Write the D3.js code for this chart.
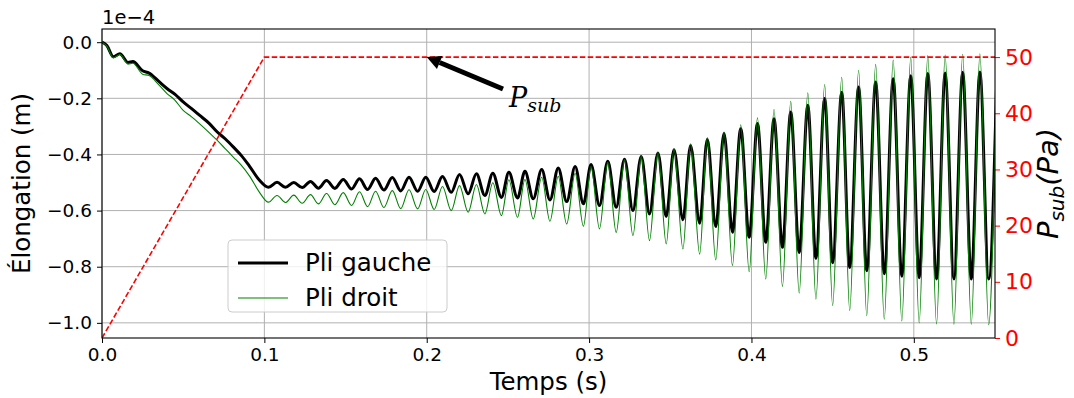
<!DOCTYPE html>
<html>
<head>
<meta charset="utf-8">
<script src="https://cdn.jsdelivr.net/npm/d3@7"></script>
<style>
  body { margin: 0; background: #fff; }
  text { font-family: "DejaVu Sans", sans-serif; }
</style>
</head>
<body>
<script>
// dimensions de la figure
const width = 1074;
const height = 398;
const margin = {top: 29, right: 79, bottom: 60, left: 102};

// temps (s) des points
const temps = [
  0, 0.003, 0.007, 0.011, 0.016, 0.019, 0.025, 0.029, 0.035, 0.040, 0.045,
  0.050, 0.055, 0.060, 0.066, 0.071, 0.076, 0.081, 0.086, 0.091, 0.097,
  0.1025, 0.1078, 0.1130, 0.1181, 0.1233, 0.1284, 0.1333, 0.1383, 0.1434, 0.1486,
  0.1537, 0.1586, 0.1636, 0.1685, 0.1736, 0.1788, 0.1840, 0.1891, 0.1944, 0.1994,
  0.2046, 0.2097, 0.2151, 0.2202, 0.2255, 0.2306, 0.2358, 0.2407, 0.2460, 0.2506,
  0.2559, 0.2605, 0.2656, 0.2708, 0.2759, 0.2810, 0.2862, 0.2914, 0.2965, 0.3012,
  0.3064, 0.3115, 0.3167, 0.3218, 0.3270, 0.3321, 0.3372, 0.3424, 0.3475, 0.3523,
  0.3578, 0.3625, 0.3681, 0.3728, 0.3780, 0.3831, 0.3883, 0.3934, 0.3986, 0.4037,
  0.4088, 0.4139, 0.4191, 0.4242, 0.4294, 0.4347, 0.4397, 0.4451, 0.4500, 0.4556,
  0.4605, 0.4660, 0.4710, 0.4765, 0.4818, 0.4873, 0.4926, 0.4981, 0.5033, 0.5086,
  0.5140, 0.5193, 0.5247, 0.5301, 0.5354, 0.5407, 0.5461, 0.5512
];

// élongation (x 1e-4 m)
const pliGauche = [
  0, -0.012, -0.052, -0.041, -0.072, -0.069, -0.102, -0.110, -0.140, -0.165, -0.186,
  -0.213, -0.236, -0.260, -0.289, -0.320, -0.345, -0.374, -0.405, -0.443, -0.492,
  -0.517, -0.499, -0.517, -0.500, -0.518, -0.496, -0.520, -0.493, -0.521, -0.489,
  -0.523, -0.487, -0.525, -0.485, -0.527, -0.482, -0.530, -0.481, -0.531, -0.481,
  -0.532, -0.479, -0.535, -0.471, -0.540, -0.469, -0.546, -0.467, -0.553, -0.463,
  -0.555, -0.460, -0.558, -0.454, -0.562, -0.448, -0.568, -0.443, -0.576, -0.436,
  -0.582, -0.424, -0.588, -0.417, -0.600, -0.407, -0.612, -0.395, -0.621, -0.383,
  -0.633, -0.368, -0.645, -0.346, -0.657, -0.325, -0.677, -0.308, -0.695, -0.290,
  -0.713, -0.273, -0.731, -0.249, -0.749, -0.225, -0.770, -0.201, -0.786, -0.178,
  -0.803, -0.160, -0.814, -0.142, -0.825, -0.130, -0.834, -0.120, -0.839, -0.112,
  -0.844, -0.110, -0.844, -0.107, -0.844, -0.106, -0.844, -0.105
];

const pliDroit = [
  0, -0.014, -0.056, -0.044, -0.078, -0.075, -0.114, -0.119, -0.152, -0.183, -0.207,
  -0.243, -0.265, -0.290, -0.322, -0.350, -0.380, -0.410, -0.440, -0.478, -0.535,
  -0.570, -0.546, -0.571, -0.545, -0.574, -0.543, -0.576, -0.539, -0.579, -0.536,
  -0.582, -0.533, -0.586, -0.531, -0.589, -0.529, -0.593, -0.526, -0.594, -0.525,
  -0.596, -0.514, -0.600, -0.511, -0.606, -0.507, -0.612, -0.501, -0.618, -0.490,
  -0.624, -0.489, -0.630, -0.481, -0.638, -0.478, -0.648, -0.467, -0.656, -0.443,
  -0.665, -0.428, -0.678, -0.419, -0.689, -0.407, -0.707, -0.392, -0.719, -0.380,
  -0.737, -0.362, -0.755, -0.340, -0.776, -0.320, -0.796, -0.294, -0.818, -0.269,
  -0.844, -0.240, -0.870, -0.211, -0.894, -0.180, -0.916, -0.151, -0.939, -0.125,
  -0.957, -0.100, -0.975, -0.079, -0.987, -0.064, -0.993, -0.054, -1.000, -0.048,
  -1.004, -0.046, -1.005, -0.043, -1.005, -0.041, -1.007, -0.041
];

// pression sub-glottique
const tempsP = [0, 0.1, 0.55];
const pSub = [0, 50, 50];

const xTicks = [0, 0.1, 0.2, 0.3, 0.4, 0.5];
const yTicks = [0, -0.2, -0.4, -0.6, -0.8, -1.0];
const pTicks = [0, 10, 20, 30, 40, 50];

const svg = d3.select('body').append('svg')
    .attr('width', width)
    .attr('height', height);

const plotW = width - margin.left - margin.right;
const plotH = height - margin.top - margin.bottom;

const x = d3.scaleLinear().domain([0, 0.55]).range([0, plotW]);
const y = d3.scaleLinear().domain([-1.054, 0.047]).range([plotH, 0]);
const yP = d3.scaleLinear().domain([0, 55]).range([plotH, 0]);

const g = svg.append('g')
    .attr('transform', `translate(${margin.left},${margin.top})`);

svg.append('defs').append('clipPath').attr('id', 'clip')
  .append('rect').attr('width', plotW).attr('height', plotH);

// grille
const grid = g.append('g').attr('stroke', '#b0b0b0').attr('stroke-width', 1);
grid.selectAll('.gx').data(xTicks).enter().append('line')
    .attr('x1', d => x(d)).attr('x2', d => x(d))
    .attr('y1', 0).attr('y2', plotH);
grid.selectAll('.gy').data(yTicks).enter().append('line')
    .attr('y1', d => y(d)).attr('y2', d => y(d))
    .attr('x1', 0).attr('x2', plotW);

const fmt = d3.format('.1f');
const minus = s => s.replace('-', '\u2212');

// axes
const xAxis = g.append('g')
    .attr('transform', `translate(0,${plotH})`)
    .call(d3.axisBottom(x).tickValues(xTicks).tickSize(5).tickPadding(5).tickFormat(d => fmt(d)));
const yAxis = g.append('g')
    .call(d3.axisLeft(y).tickValues(yTicks).tickSize(5).tickPadding(5).tickFormat(d => minus(fmt(d))));
const pAxis = g.append('g')
    .attr('transform', `translate(${plotW},0)`)
    .call(d3.axisRight(yP).tickValues(pTicks).tickSize(5).tickPadding(5));

[xAxis, yAxis, pAxis].forEach(a => {
  a.select('.domain').remove();
  a.selectAll('text').style('font-family', '"DejaVu Sans", sans-serif');
});
xAxis.selectAll('text').style('font-size', '18.5px').attr('fill', '#000');
yAxis.selectAll('text').style('font-size', '18.5px').attr('fill', '#000');
xAxis.selectAll('line').attr('stroke', '#000');
yAxis.selectAll('line').attr('stroke', '#000');
pAxis.selectAll('line').attr('stroke', 'red');
pAxis.selectAll('text').style('font-size', '22px').attr('fill', 'red');

// courbes
const lines = g.append('g').attr('clip-path', 'url(#clip)');
const ligne = serie => d3.line()
    .x((d, i) => x(temps[i]))
    .y(d => y(d))
    .curve(d3.curveMonotoneX)(serie);

lines.append('path')
    .attr('d', ligne(pliGauche))
    .attr('fill', 'none').attr('stroke', '#000').attr('stroke-width', 3);
lines.append('path')
    .attr('d', ligne(pliDroit))
    .attr('fill', 'none').attr('stroke', 'green').attr('stroke-width', 1.1);

// légende
const leg = g.append('g').attr('transform', `translate(${228 - margin.left},${240 - margin.top})`);
leg.append('rect')
    .attr('width', 219).attr('height', 72).attr('rx', 4)
    .attr('fill', 'rgba(255,255,255,0.8)').attr('stroke', '#cccccc');
const legItems = [
  {label: 'Pli gauche', color: '#000', w: 3},
  {label: 'Pli droit', color: 'green', w: 1.1}
];
legItems.forEach((it, i) => {
  const yy = 23 + i * 35;
  leg.append('line').attr('x1', 10).attr('x2', 60).attr('y1', yy).attr('y2', yy)
      .attr('stroke', it.color).attr('stroke-width', it.w);
  leg.append('text').attr('x', 77).attr('y', yy + 8)
      .style('font-size', '24.5px').text(it.label);
});

// pression (axe de droite)
const lp = g.append('g').attr('clip-path', 'url(#clip)');
lp.append('path')
    .attr('d', d3.line().x((d, i) => x(tempsP[i])).y(d => yP(d))(pSub))
    .attr('fill', 'none').attr('stroke', 'red').attr('stroke-width', 1.6)
    .attr('stroke-dasharray', '5.5,2.4');

// cadre
g.append('rect').attr('width', plotW).attr('height', plotH)
    .attr('fill', 'none').attr('stroke', '#000').attr('stroke-width', 1.1);

// annotation
const ax0 = x(0.2), ay0 = yP(50);
const tx = 503 - margin.left, ty = 89 - margin.top;
const ang = Math.atan2(ay0 - ty, ax0 - tx);
const headL = 14, headW = 7;
const bx = ax0 - headL * Math.cos(ang), by = ay0 - headL * Math.sin(ang);
g.append('line').attr('x1', tx).attr('y1', ty).attr('x2', bx).attr('y2', by)
    .attr('stroke', '#000').attr('stroke-width', 5);
g.append('path')
    .attr('d', `M${ax0},${ay0} L${bx + headW * Math.sin(ang)},${by - headW * Math.cos(ang)} L${bx - headW * Math.sin(ang)},${by + headW * Math.cos(ang)} Z`)
    .attr('fill', '#000');
const ann = g.append('text').attr('x', 509 - margin.left).attr('y', 107 - margin.top)
    .style('font-family', '"DejaVu Serif", serif').style('font-style', 'italic').style('font-size', '27px');
ann.append('tspan').text('P');
ann.append('tspan').attr('dy', 5).style('font-size', '19px').text('sub');

// libellés
svg.append('text')
    .attr('x', margin.left + plotW / 2).attr('y', 390)
    .attr('text-anchor', 'middle').style('font-size', '24.5px').text('Temps (s)');
svg.append('text')
    .attr('transform', `translate(30,${margin.top + plotH / 2}) rotate(-90)`)
    .attr('text-anchor', 'middle').style('font-size', '24.5px').text('Élongation (m)');
svg.append('text')
    .attr('x', margin.left).attr('y', 24).style('font-size', '19.5px').text('1e\u22124');

const rl = svg.append('text')
    .attr('transform', `translate(1058,${margin.top + plotH / 2}) rotate(-90)`)
    .attr('text-anchor', 'middle')
    .style('font-style', 'italic').style('font-size', '29px');
rl.append('tspan').text('P');
rl.append('tspan').attr('dy', 6).style('font-size', '20px').text('sub');
rl.append('tspan').attr('dy', -6).text('(Pa)');
</script>
</body>
</html>
